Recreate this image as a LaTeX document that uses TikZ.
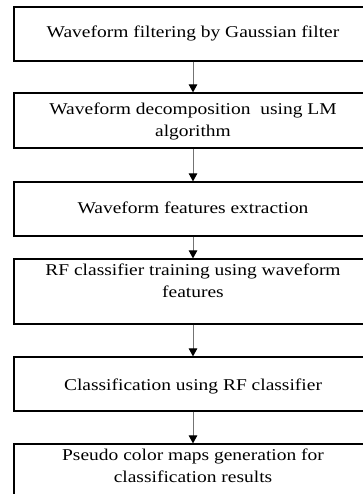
\documentclass[tikz,border=0pt]{standalone}
\usepackage{fontspec}
\setmainfont{Liberation Serif}[FakeStretch=1.18]
\usetikzlibrary{arrows.meta}
\begin{document}
\begin{tikzpicture}[x=1pt,y=-1pt,
  stage/.style={draw=black, line width=1.2pt, rectangle, minimum width=358pt, inner sep=0pt},
  caption/.style={anchor=base, align=center, inner sep=0pt,
    font=\fontsize{16.5}{22}\selectfont},
  flow/.style={draw=black!55, line width=1pt,
    -{Triangle[width=8.5pt,length=8pt,color=black,fill=black]}}]
\useasboundingbox (0,0) rectangle (362,494);
% process boxes (the right edges run past the page)
\node[stage, minimum height=54pt] (b1) at (193,34) {};
\node[stage, minimum height=55pt] (b2) at (193,120.5) {};
\node[stage, minimum height=54pt] (b3) at (193,209) {};
\node[stage, minimum height=65pt] (b4) at (193,291.5) {};
\node[stage, minimum height=54pt] (b5) at (193,384) {};
\node[stage, minimum height=64pt] (b6) at (193,476) {};
% step descriptions (base = baseline of the last line)
\node[caption] (t1) at (193,37.5) {Waveform filtering by Gaussian filter};
\node[caption] (t2) at (193,137) {Waveform decomposition\ \ using LM\\algorithm};
\node[caption] (t3) at (193,213) {Waveform features extraction};
\node[caption] (t4) at (193,297) {RF classifier training using waveform\\features};
\node[caption] (t5) at (193,390.5) {Classification using RF classifier};
\node[caption] (t6) at (193,482) {Pseudo color maps generation for\\classification results};
% flow arrows
\draw[flow] (b1.south) -- (b2.north);
\draw[flow] (b2.south) -- (b3.north);
\draw[flow] (b3.south) -- (b4.north);
\draw[flow] (b4.south) -- (b5.north);
\draw[flow] (b5.south) -- (b6.north);
\end{tikzpicture}
\end{document}
